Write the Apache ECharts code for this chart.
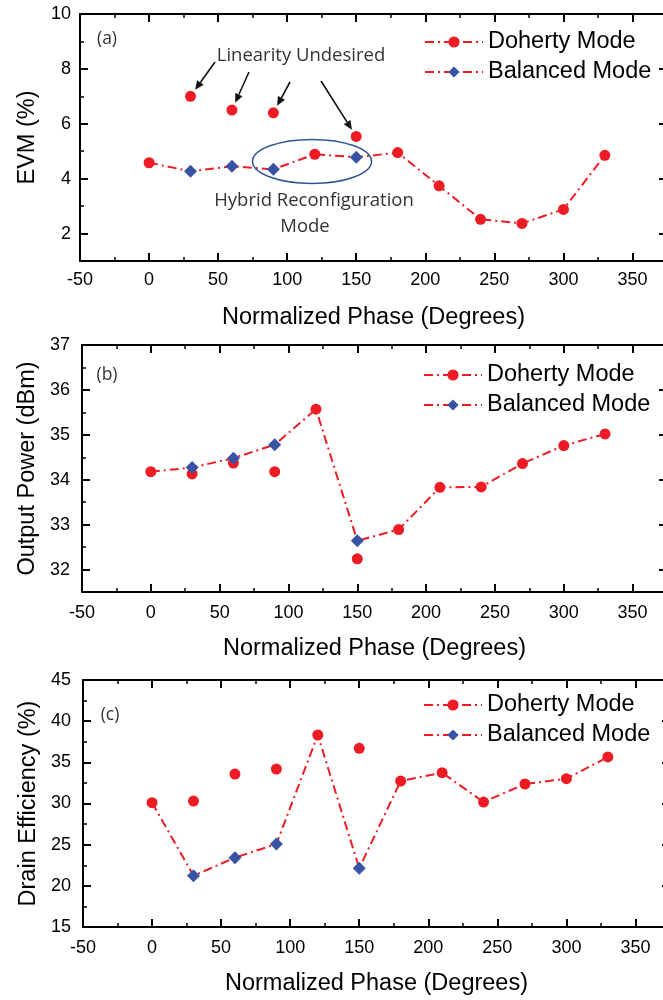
<!DOCTYPE html>
<html><head><meta charset="utf-8">
<script src="https://cdn.jsdelivr.net/npm/echarts@6/dist/echarts.min.js"></script>
<style>html,body{margin:0;padding:0;background:#fff}#c{width:663px;height:1000px}</style>
</head><body><div id="c"></div>
<script>
// ---- data ----
const phase = [0, 30, 60, 90, 120, 150, 180, 210, 240, 270, 300, 330];
const evmDoherty  = [4.58, 7.0, 6.5, 6.4, 4.89, 5.54, 4.95, 3.74, 2.52, 2.37, 2.88, 4.85];
const evmBalanced = [null, 4.27, 4.45, 4.34, null, 4.78, null, null, null, null, null, null];
const poutDoherty  = [34.18, 34.13, 34.37, 34.18, 35.57, 32.24, 32.89, 33.83, 33.84, 34.36, 34.76, 35.02];
const poutBalanced = [null, 34.27, 34.48, 34.78, null, 32.64, null, null, null, null, null, null];
const deDoherty  = [30.1, 30.3, 33.58, 34.19, 38.32, 36.7, 32.73, 33.74, 30.18, 32.37, 33.01, 35.65];
const deBalanced = [null, 21.23, 23.42, 25.08, null, 22.13, null, null, null, null, null, null];

// ---- tick labels ----
const xMajor = [-50, 0, 50, 100, 150, 200, 250, 300, 350];
const xMinor = [-25, 25, 75, 125, 175, 225, 275, 325];
const evmMajor = [2, 4, 6, 8, 10];
const evmMinor = [3, 5, 7, 9];
const poutMajor = [32, 33, 34, 35, 36, 37];
const poutMinor = [32.5, 33.5, 34.5, 35.5, 36.5];
const deMajor = [15, 20, 25, 30, 35, 40, 45];
const deMinor = [17.5, 22.5, 27.5, 32.5, 37.5, 42.5];

const RED = '#ed1c24', BLUE = '#3953a4', ELL = '#2f5597';
const FONT = '"Liberation Sans", Arial, sans-serif';
const AFONT = '"Open Sans", "Noto Sans", sans-serif';
const DASH = [9, 4, 2, 4];

const panels = [
  {grid:{left:80, top:14, width:587, height:247}, yMin:1, yMax:10, yMajor:evmMajor, yMinor:evmMinor,
   yName:'EVM (%)', doh:evmDoherty, bal:evmBalanced, xm:10, ym:9, nameGapY:40, legTop:30, legLeft:424},
  {grid:{left:82, top:345, width:585, height:247}, yMin:31.5, yMax:37, yMajor:poutMajor, yMinor:poutMinor,
   yName:'Output Power (dBm)', doh:poutDoherty, bal:poutBalanced, xm:12, ym:12, nameGapY:41, legTop:363, legLeft:423},
  {grid:{left:83, top:680, width:587, height:247}, yMin:15, yMax:45, yMajor:deMajor, yMinor:deMinor,
   yName:'Drain Efficiency (%)', doh:deDoherty, bal:deBalanced, xm:12, ym:12, nameGapY:42, legTop:693, legLeft:423}
];

const grids = [], xAxes = [], yAxes = [], series = [], legends = [];
const majTick = (vals) => ({show:true, inside:true, length:8, customValues:vals, lineStyle:{color:'#000', width:2}});
const minTick = (vals) => ({show:true, inside:true, length:4, customValues:vals, lineStyle:{color:'#000', width:1.5}});
const lineOn = {show:true, onZero:false, lineStyle:{color:'#000', width:2}};
const lineOff = {show:false, onZero:false};

panels.forEach((p, g) => {
  grids.push(Object.assign({containLabel:false, outerBoundsMode:'none'}, p.grid));
  const xb = {type:'value', gridIndex:g, min:-50, max:375, splitLine:{show:false}};
  xAxes.push(Object.assign({}, xb, {position:'bottom', axisLine:lineOn, axisTick:majTick(xMajor),
    axisLabel:{customValues:xMajor, margin:p.xm, fontSize:18, color:'#000', fontFamily:FONT},
    name:'Normalized Phase (Degrees)', nameLocation:'middle', nameGap:45,
    nameTextStyle:{fontSize:23.5, fontFamily:FONT, color:'#000'}}));
  xAxes.push(Object.assign({}, xb, {position:'bottom', axisLine:lineOff, axisTick:minTick(xMinor), axisLabel:{show:false}}));
  xAxes.push(Object.assign({}, xb, {position:'top', axisLine:lineOn, axisTick:majTick(xMajor), axisLabel:{show:false}}));
  xAxes.push(Object.assign({}, xb, {position:'top', axisLine:lineOff, axisTick:minTick(xMinor), axisLabel:{show:false}}));

  const yb = {type:'value', gridIndex:g, min:p.yMin, max:p.yMax, splitLine:{show:false}};
  yAxes.push(Object.assign({}, yb, {position:'left', axisLine:lineOn, axisTick:majTick(p.yMajor),
    axisLabel:{customValues:p.yMajor, margin:p.ym, fontSize:18, color:'#000', fontFamily:FONT},
    name:p.yName, nameLocation:'middle', nameGap:p.nameGapY,
    nameTextStyle:{fontSize:23.5, fontFamily:FONT, color:'#000'}}));
  yAxes.push(Object.assign({}, yb, {position:'left', axisLine:lineOff, axisTick:minTick(p.yMinor), axisLabel:{show:false}}));
  // right frame side lies just outside the visible area: only its inward ticks show
  yAxes.push(Object.assign({}, yb, {position:'right', axisLine:lineOff, axisTick:majTick(p.yMajor), axisLabel:{show:false}}));
  yAxes.push(Object.assign({}, yb, {position:'right', axisLine:lineOff, axisTick:minTick(p.yMinor), axisLabel:{show:false}}));

  const hybrid = phase.map((ph, i) => [ph, p.bal[i] != null ? p.bal[i] : p.doh[i]]);
  series.push({type:'line', name:'path' + g, xAxisIndex:g*4, yAxisIndex:g*4, data:hybrid,
    symbol:'none', lineStyle:{color:RED, width:2, type:DASH}, z:2, silent:true});
  series.push({type:'line', name:'Doherty Mode', xAxisIndex:g*4, yAxisIndex:g*4,
    data:phase.map((ph, i) => [ph, p.doh[i]]), symbol:'circle', symbolSize:11, showSymbol:true,
    itemStyle:{color:RED}, lineStyle:{color:RED, width:2, type:DASH, opacity:0}, z:3, silent:true});
  series.push({type:'line', name:'Balanced Mode', xAxisIndex:g*4, yAxisIndex:g*4,
    data:phase.map((ph, i) => [ph, p.bal[i]]), symbol:'diamond', symbolSize:13, showSymbol:true,
    itemStyle:{color:BLUE}, lineStyle:{color:RED, width:2, type:DASH, opacity:0}, z:4, silent:true});

  legends.push({orient:'vertical', left:p.legLeft, top:p.legTop, padding:0, itemWidth:58, itemHeight:14, itemGap:6,
    selectedMode:false,
    textStyle:{fontSize:23.5, fontFamily:FONT, color:'#000', lineHeight:24},
    data:[{name:'Doherty Mode', lineStyle:{opacity:1}}, {name:'Balanced Mode', lineStyle:{opacity:1}}]});
});

const chart = echarts.init(document.getElementById('c'), null, {renderer:'canvas'});
chart.setOption({animation:false, backgroundColor:'#fff', grid:grids, xAxis:xAxes, yAxis:yAxes, series:series, legend:legends});

// ---- annotations ----
const toPx = (x, y) => chart.convertToPixel({xAxisIndex:0, yAxisIndex:0}, [x, y]);
const gr = [];
const txt = (s, x, y, fs) => gr.push({type:'text', x:x, y:y, z:20, style:{text:s, fontSize:fs || 18.5, fontFamily:AFONT, fill:'#333', align:'center', verticalAlign:'middle'}});
txt('Linearity Undesired', 301, 56);
txt('Hybrid Reconfiguration', 314, 201);
txt('Mode', 305, 227);
txt('(a)', 107, 39, 17.5);
txt('(b)', 107, 375, 17.5);
txt('(c)', 110, 715, 17.5);

// arrows: tail position (px) -> pointing at the Doherty point at given phase index
const arrows = [[[215, 62], 1], [[249, 72], 2], [[290, 82], 3], [[321, 81], 5]];
arrows.forEach(([tail, idx]) => {
  const pt = toPx(phase[idx], evmDoherty[idx]);
  const dx = pt[0] - tail[0], dy = pt[1] - tail[1];
  const L = Math.hypot(dx, dy), ux = dx / L, uy = dy / L;
  const tip = [pt[0] - ux * 8, pt[1] - uy * 8];
  const base = [tip[0] - ux * 9, tip[1] - uy * 9];
  const nx = -uy, ny = ux;
  gr.push({type:'line', z:20, shape:{x1:tail[0], y1:tail[1], x2:base[0], y2:base[1]}, style:{stroke:'#111', lineWidth:1.6}});
  gr.push({type:'polygon', z:20, shape:{points:[tip, [base[0] + nx * 4, base[1] + ny * 4], [base[0] - nx * 4, base[1] - ny * 4]]}, style:{fill:'#111'}});
});
const ec = toPx(118, 4.63);
gr.push({type:'ellipse', z:20, shape:{cx:ec[0], cy:ec[1], rx:59.5, ry:22}, style:{stroke:ELL, lineWidth:1.5, fill:'rgba(0,0,0,0)'}});
chart.setOption({graphic:gr});
</script>
</body></html>
